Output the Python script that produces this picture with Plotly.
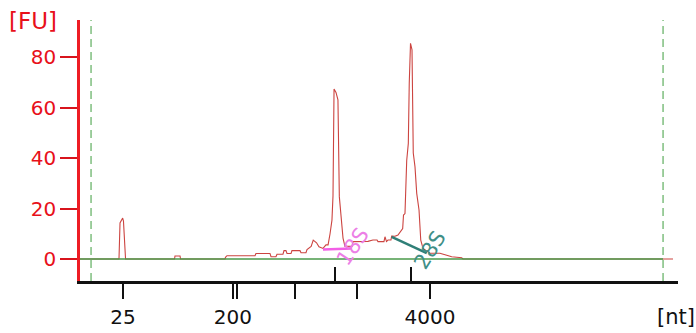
import plotly.graph_objects as go

# Electropherogram data (time in s, fluorescence in FU)
time_s = [18.0, 21.39, 21.48, 21.71, 21.78, 21.85, 21.91, 21.96, 26.22, 26.26, 26.70, 26.74,
          30.61, 30.65, 30.78, 33.22, 33.30, 34.52, 34.61, 35.04, 35.13, 35.65, 35.74, 35.91,
          36.00, 36.35, 36.43, 37.13, 37.22, 37.65, 37.74, 37.94, 38.10, 38.28, 38.57, 38.78,
          39.13, 39.39, 39.57, 39.74, 39.91, 40.00, 40.09, 40.26, 40.43, 40.55, 40.70, 40.87,
          41.04, 41.65, 41.74, 43.04, 43.47, 43.83, 43.91, 44.43, 44.52, 44.65, 44.78, 45.04,
          45.10, 45.39, 45.65, 45.83, 46.06, 46.13, 46.26, 46.41, 46.55, 46.63, 46.74, 46.87,
          46.98, 47.13, 47.28, 47.48, 47.63, 47.83, 48.43, 49.30, 49.89, 50.32, 51.19, 51.30, 69.57]
fu = [0, 0, 14.3, 16.2, 15.0, 6.0, 5.5, 0, 0, 1.2, 1.2, 0,
      0, 0.7, 1.3, 1.3, 2.2, 2.2, 0.9, 0.9, 1.9, 1.9, 3.3, 3.3,
      2.2, 2.2, 3.3, 3.3, 2.5, 2.5, 3.7, 4.6, 5.0, 7.5, 6.4, 4.8,
      4.2, 5.6, 5.6, 9.9, 15.4, 25.0, 67.3, 66.0, 63.0, 24.7, 18.0, 8.3,
      5.0, 5.0, 6.9, 7.0, 7.5, 7.5, 6.9, 6.9, 8.8, 6.9, 7.5, 7.5,
      9.1, 9.0, 9.5, 10.8, 12.1, 17.4, 18.0, 39.0, 45.8, 69.6, 85.4, 82.8,
      42.0, 36.5, 26.0, 19.4, 7.5, 4.2, 2.3, 2.3, 1.6, 0.9, 0.5, 0, 0]

# Axis ticks
ladder_ticks = [21.74, 31.30, 31.65, 36.70, 42.10, 48.43]
ladder_labels = ["25", "200", "", "", "", "4000"]
peak_ticks = [40.17, 46.78]
y_ticks = [0, 20, 40, 60, 80]

# Baseline and markers
baseline_x = [18.0, 68.70]
baseline_y = [0, 0]
marker_lines = [18.96, 68.70]

# Ribosomal peak annotations
rrna_names = ["18S", "28S"]
rrna_line_x = [[39.13, 41.61], [45.10, 48.15]]
rrna_line_y = [[3.8, 4.2], [8.8, 2.3]]
rrna_label_x = [41.70, 48.43]
rrna_label_y = [4.75, 3.56]
rrna_line_colors = ["#f25fe6", "#2f7f77"]
rrna_text_colors = ["#ec7fe6", "#3f8f87"]
rrna_angles = [-56, -58]

FONT = "DejaVu Sans"

fig = go.Figure()
fig.add_trace(go.Scatter(x=time_s, y=fu, mode="lines",
                         line=dict(color="#cc4440", width=1.1), hoverinfo="skip"))
fig.add_trace(go.Scatter(x=baseline_x, y=baseline_y, mode="lines",
                         line=dict(color="#4a9a4a", width=1.4), hoverinfo="skip"))
for xs, ys, c in zip(rrna_line_x, rrna_line_y, rrna_line_colors):
    fig.add_trace(go.Scatter(x=xs, y=ys, mode="lines",
                             line=dict(color=c, width=2.5), hoverinfo="skip"))

for mx in marker_lines:
    fig.add_shape(type="line", xref="x", yref="paper", x0=mx, x1=mx, y0=0, y1=1,
                  line=dict(color="#5fae5f", width=1.2, dash="8px,5px"), layer="below")

for name, lx, ly, c, a in zip(rrna_names, rrna_label_x, rrna_label_y, rrna_text_colors, rrna_angles):
    fig.add_annotation(x=lx, y=ly, text=name, showarrow=False, textangle=a,
                       font=dict(family=FONT, size=21, color=c))

fig.add_annotation(xref="paper", yref="paper", x=-0.079, y=0.997, text="[FU]", showarrow=False,
                   xanchor="center", yanchor="middle", font=dict(family=FONT, size=23, color="#e8101a"))
fig.add_annotation(xref="paper", yref="paper", x=0.997, y=-0.138, text="[nt]", showarrow=False,
                   xanchor="center", yanchor="middle", font=dict(family=FONT, size=21, color="#111111"))

fig.update_layout(
    width=696, height=333,
    margin=dict(l=80, r=18, t=20, b=52),
    paper_bgcolor="white", plot_bgcolor="white",
    showlegend=False,
    xaxis=dict(range=[18, 70], showgrid=False, zeroline=False, automargin=False,
               showline=True, linecolor="#111111", linewidth=3,
               ticks="outside", ticklen=15, tickwidth=2, tickcolor="#111111",
               tickvals=ladder_ticks, ticktext=ladder_labels, ticklabelstandoff=1,
               tickfont=dict(family=FONT, size=20, color="#111111")),
    xaxis2=dict(range=[18, 70], overlaying="x", anchor="y", side="bottom",
                showgrid=False, zeroline=False, showline=False, automargin=False,
                ticks="inside", ticklen=14, tickwidth=2, tickcolor="#111111",
                tickvals=peak_ticks, showticklabels=False),
    yaxis=dict(range=[-8.71, 94.65], showgrid=False, zeroline=False, automargin=False,
               showline=True, linecolor="#ee1c24", linewidth=2.5,
               ticks="outside", ticklen=17, tickwidth=2, tickcolor="#d8141c",
               tickvals=y_ticks, tickfont=dict(family=FONT, size=20, color="#e8101a")),
)
# dummy trace so xaxis2 is rendered
fig.add_trace(go.Scatter(x=[18], y=[None], xaxis="x2", mode="lines", hoverinfo="skip"))

fig.write_html("out.html", config={"displayModeBar": False},
               post_script="document.body.style.margin='0';document.body.style.overflow='hidden';")
